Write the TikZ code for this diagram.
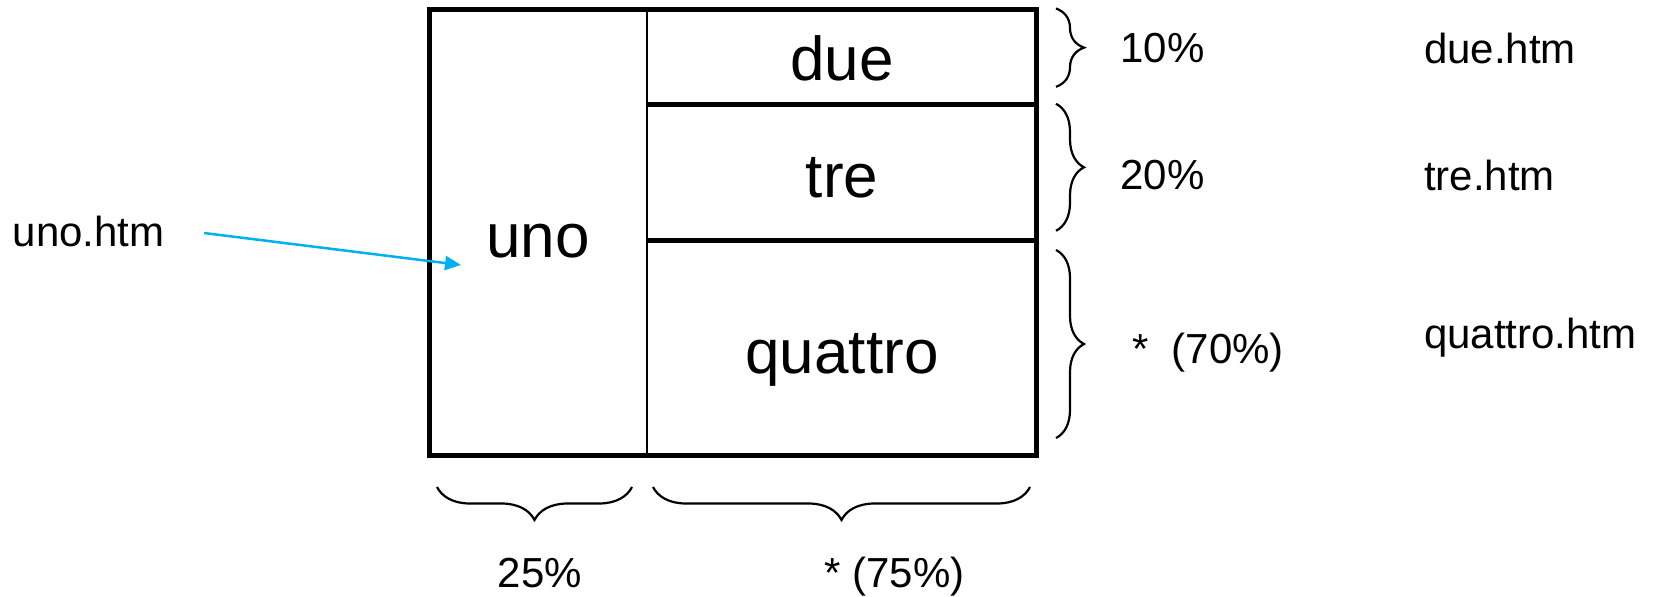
\documentclass[tikz,border=0pt]{standalone}
\usepackage{fontspec}
\setmainfont{Liberation Sans}
\usetikzlibrary{decorations.pathreplacing,arrows.meta}
\definecolor{arrowblue}{RGB}{0,176,240}
\tikzset{
  thickline/.style={line width=5pt},
  thinline/.style={line width=2.5pt},
  biglabel/.style={font=\fontsize{62}{70}\selectfont, inner sep=0pt},
  smalllabel/.style={font=\fontsize{42}{48}\selectfont, inner sep=0pt},
  rbrace/.style={line width=2.2pt, decorate, decoration={brace, amplitude=#1}},
  pointer/.style={arrowblue, line width=2.5pt, -{Triangle[length=16pt,width=14pt]}}
}
\begin{document}
\begin{tikzpicture}[x=1pt,y=-1pt]
\useasboundingbox (0,0) rectangle (1660,597);
% frame
\coordinate (tl) at (429,9.5);
\coordinate (br) at (1036.5,455);
\draw[thinline] (647,9.5) -- (647,455);
\draw[thickline] (647,104.8) -- (1036.5,104.8);
\draw[thickline] (647,240.3) -- (1036.5,240.3);
\draw[thickline] (tl) rectangle (br);
% cell labels
\node[biglabel] (uno) at (538,241) {uno};
\node[biglabel] (due) at (842,58) {due};
\node[biglabel] (tre) at (842,178) {tre};
\node[biglabel] (quattro) at (842,359.5) {quattro};
% right braces
\draw[rbrace=28pt] (1056,8.5) -- (1056,86.8);
\draw[rbrace=28pt] (1056,103.8) -- (1056,230.8);
\draw[rbrace=28pt] (1056,250) -- (1056,438);
% bottom braces
\draw[rbrace=33pt] (632,487) -- (437,487);
\draw[rbrace=33pt] (1030,487) -- (653,487);
% percentages
\node[smalllabel] (p10) at (1162.5,48) {10\%};
\node[smalllabel] (p20) at (1162.5,175) {20\%};
\node[smalllabel] (p70) at (1208,353) {*\ \ (70\%)};
\node[smalllabel] (p25) at (540,573) {25\%};
\node[smalllabel] (p75) at (894.6,577) {* (75\%)};
% file names
\node[smalllabel, anchor=west] (duehtm) at (1424,48) {due.htm};
\node[smalllabel, anchor=west] (trehtm) at (1424,175) {tre.htm};
\node[smalllabel, anchor=west] (quattrohtm) at (1424,337.5) {quattro.htm};
\node[smalllabel, anchor=west] (unohtm) at (12.7,231) {uno.htm};
% arrow
\coordinate (tail) at (204,233);
\coordinate (tip) at (461,265);
\draw[pointer] (tail) -- (tip);
\end{tikzpicture}
\end{document}
